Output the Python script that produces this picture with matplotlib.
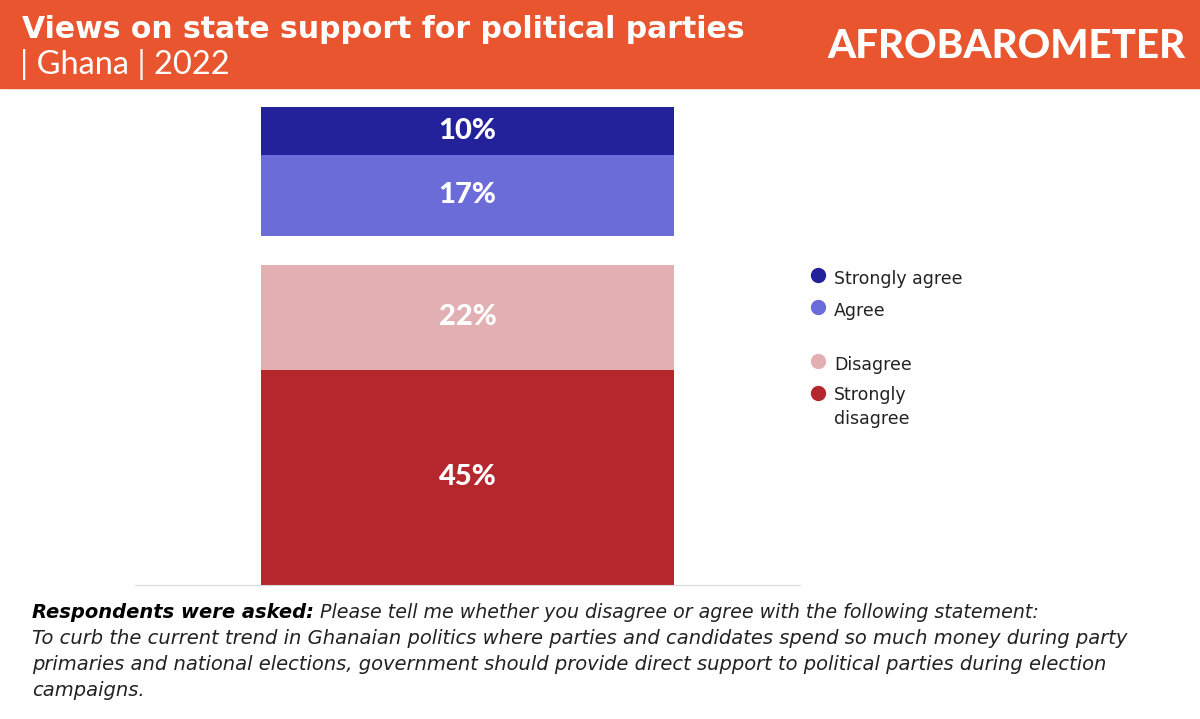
import matplotlib
matplotlib.use("Agg")
import matplotlib.pyplot as plt
from matplotlib.lines import Line2D
from matplotlib.font_manager import FontProperties

plt.rcParams["font.family"] = ["DejaVu Sans"]

# data
categories = ["Strongly agree", "Agree", "Disagree", "Strongly disagree"]
agree_vals = [10, 17]        # strongly agree, agree
disagree_vals = [22, 45]     # disagree, strongly disagree
colors = ["#24229A", "#6C6CD9", "#E2AFB3", "#B3272D"]

title = "Views on state support for political parties"
subtitle = "| Ghana | 2022"
q_bold = "Respondents were asked:"
q_lines = [" Please tell me whether you disagree or agree with the following statement:",
           "To curb the current trend in Ghanaian politics where parties and candidates spend so much money during party",
           "primaries and national elections, government should provide direct support to political parties during election",
           "campaigns."]

orange = "#E8552E"
gap = 6  # space between the two stacks

lato_pct = FontProperties(family=["Lato", "DejaVu Sans"], weight="black", size=21)
lato_black = FontProperties(family=["Lato", "DejaVu Sans"], weight="black", size=29)
lato_sub = FontProperties(family=["Lato", "DejaVu Sans"], weight="normal", size=23.5)

fig = plt.figure(figsize=(12, 7.19), dpi=100)
W, H = 1200, 719

# header band
fig.patches.append(plt.Rectangle((0, 1 - 88 / H), 1, 88 / H, transform=fig.transFigure,
                                 color=orange, zorder=0))
fig.text(22 / W, 1 - 29 / H, title, color="white", fontsize=21.5, fontweight="bold", va="center")
fig.text(20 / W, 1 - 64 / H, subtitle, color="white", fontproperties=lato_sub, va="center")
fig.text(1185 / W, 1 - 47 / H, "AFROBAROMETER", fontproperties=lato_black,
         color="white", ha="right", va="center")

# chart
ax = fig.add_axes([135 / W, 1 - 585 / H, 665 / W, (585 - 107) / H])
ax.set_xlim(0, 1)
total_dis = sum(disagree_vals)
ax.set_ylim(0, total_dis + gap + sum(agree_vals))

# disagree stack from the baseline
bottom = 0
for v, c in zip(disagree_vals[::-1], colors[2:][::-1]):
    ax.bar(0.5, v, bottom=bottom, width=0.62, color=c)
    ax.text(0.5, bottom + v / 2, f"{v}%", fontproperties=lato_pct, color="white",
            ha="center", va="center")
    bottom += v

# agree stack above the gap
bottom = total_dis + gap
for v, c in zip(agree_vals[::-1], colors[:2][::-1]):
    ax.bar(0.5, v, bottom=bottom, width=0.62, color=c)
    ax.text(0.5, bottom + v / 2, f"{v}%", fontproperties=lato_pct, color="white",
            ha="center", va="center")
    bottom += v

for s in ["top", "right", "left"]:
    ax.spines[s].set_visible(False)
ax.spines["bottom"].set_color("#D9D9D9")
ax.set_xticks([])
ax.set_yticks([])

# legend
leg_y = [278, 310, 364, 396]
leg_txt = ["Strongly agree", "Agree", "Disagree", "Strongly\ndisagree"]
for y, t, c in zip(leg_y, leg_txt, colors):
    fig.add_artist(Line2D([818 / W], [1 - (y - 3) / H], marker="o", color=c, ms=10,
                          transform=fig.transFigure))
    if "\n" in t:
        fig.text(834 / W, 1 - (y - 10) / H, t, fontsize=12.5, color="#222222", va="top", linespacing=1.45)
    else:
        fig.text(834 / W, 1 - (y + 1) / H, t, fontsize=12.5, color="#222222", va="center")

# question text
fig.canvas.draw()
r = fig.canvas.get_renderer()
t0 = fig.text(32 / W, 1 - 612 / H, q_bold, fontsize=14, fontweight="bold", style="italic",
              color="black", va="center")
bb = t0.get_window_extent(renderer=r)
fig.text(bb.x1 / W, 1 - 612 / H, q_lines[0], fontsize=13.7, style="italic", color="#222222", va="center")
for i, line in enumerate(q_lines[1:]):
    fig.text(32 / W, 1 - (638 + 26.3 * i) / H, line, fontsize=14, style="italic",
             color="#222222", va="center")

fig.savefig("out.png", dpi=100)
